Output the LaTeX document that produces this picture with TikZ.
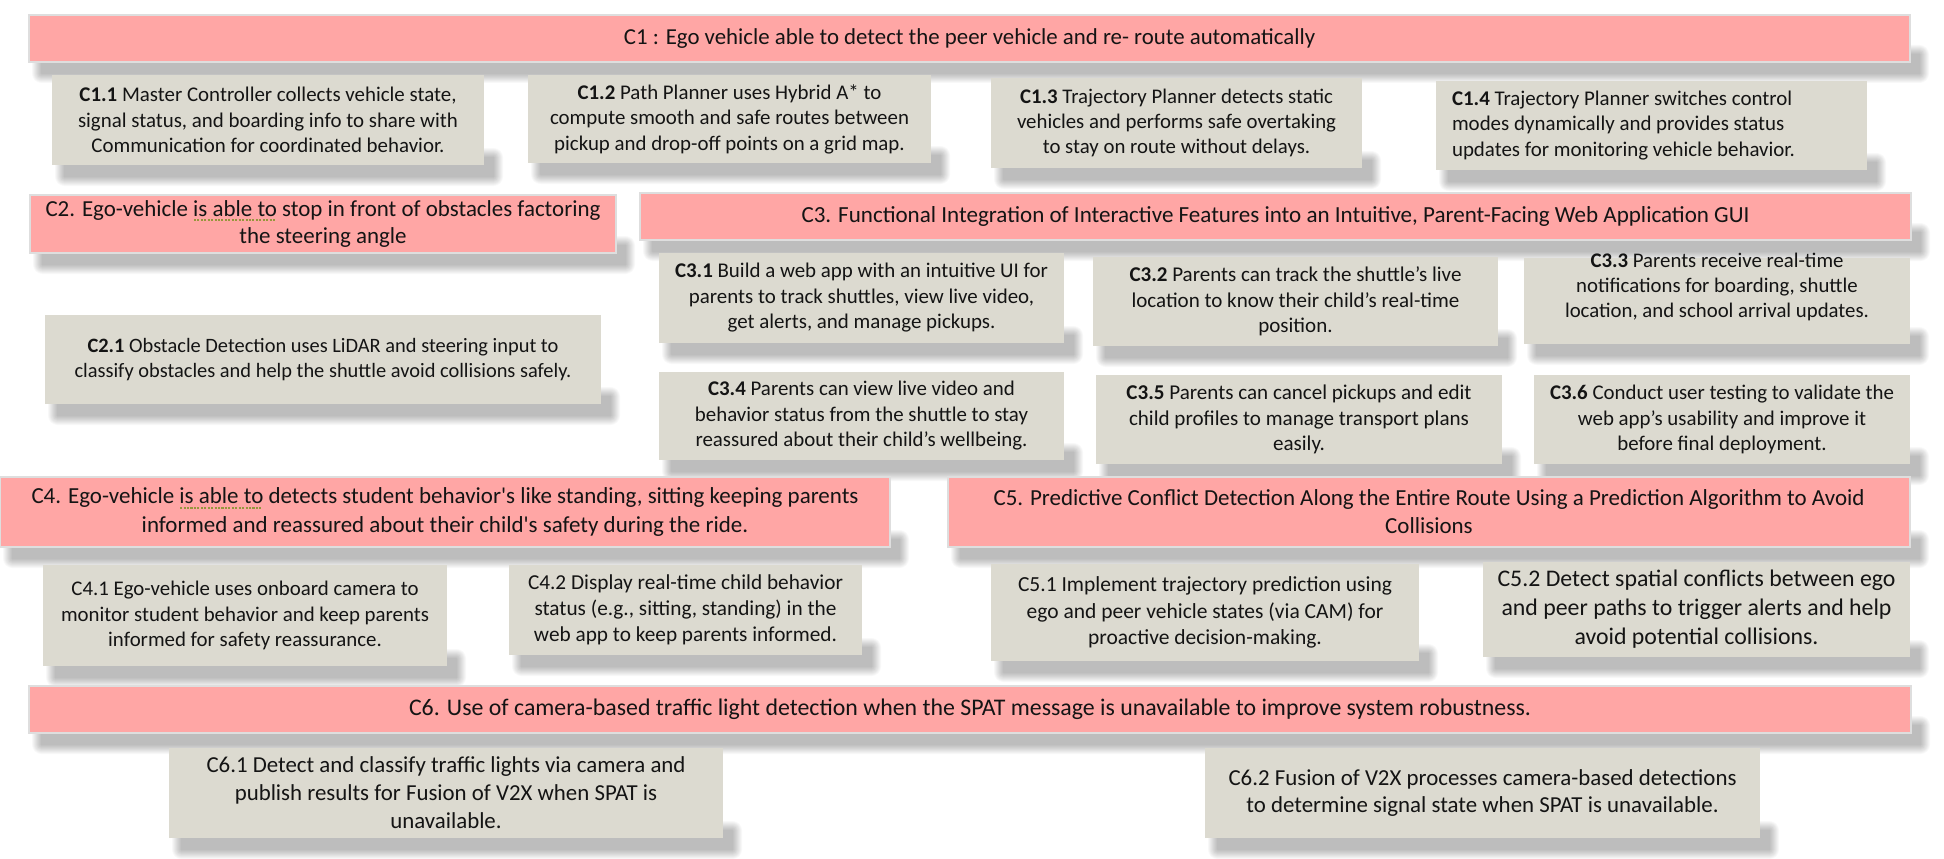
\documentclass[tikz,border=0pt]{standalone}
\usepackage{fontspec}
\setmainfont{Carlito}
\usetikzlibrary{calc}
\definecolor{hdr}{RGB}{255,166,165}
\definecolor{sub}{RGB}{220,218,208}
\definecolor{hdrline}{RGB}{222,222,222}
\definecolor{gramc}{RGB}{150,150,60}
\definecolor{txt}{RGB}{20,20,20}
\pgfdeclarelayer{bg}
\pgfsetlayers{bg,main}
\newcommand\gram[1]{\setbox0\hbox{#1}\leavevmode\rlap{\raisebox{-0.2em}{\textcolor{gramc}{\hbox to \wd0{\leaders\hbox{\kern0.03em\rule{0.09em}{0.06em}\kern0.03em}\hfill}}}}\box0\relax}
\newlength\fitw
\newsavebox\fitbox
% #1 name, #2 target width (px), #3 reference line: defines \fnt<name> so that the line is #2 wide
\newcommand\setfit[3]{\sbox\fitbox{\fontsize{10}{12}\selectfont #3}\fitw=\wd\fitbox\relax
 \pgfmathsetmacro\fsz{10*#2/\fitw}\pgfmathsetmacro\bsk{1.22*\fsz}%
 \expandafter\edef\csname fnt#1\endcsname{\noexpand\fontsize{\fsz}{\bsk}\noexpand\selectfont}}
\tikzset{
 hdrbox/.style={fill=hdr, draw=hdrline, line width=1.2pt},
 subbox/.style={fill=sub, draw=none},
 hdrtext/.style={align=center, text=txt},
 subtext/.style={align=center, text=txt},
 shdlayer/.style={fill=black, opacity=0.028},
}
% #1 name, #2 box style, #3 text style, #4 x0, #5 y0, #6 x1, #7 y1, #8 text, #9 text offset
\newcommand\bx[9]{%
 \node[#2, inner sep=0pt, outer sep=0pt, minimum width={#6pt-#4pt}, minimum height={#7pt-#5pt}] (#1) at ({(#4+#6)/2},{(#5+#7)/2}) {};
 \node[#3, font=\csname fnt#1\endcsname, inner sep=0pt] (#1-t) at ($(#1.center)+#9$) {#8};
 \begin{pgfonlayer}{bg}
 \foreach \k in {0,...,9}{
  \fill[shdlayer, rounded corners={\k*1pt+0.5pt}] ($(#1.south west)+(12-\k,-8-\k)$) rectangle ($(#1.south east)+(10+\k,12+\k)$);
 }
 \end{pgfonlayer}
}
\begin{document}
\setfit{c1}{474}{C1 : Ego vehicle able to detect the peer vehicle and}
\setfit{c11}{380}{signal status, and boarding info to share with}
\setfit{c12}{359}{compute smooth and safe routes between}
\setfit{c13}{319}{vehicles and performs safe overtaking}
\setfit{c14}{343}{updates for monitoring vehicle behavior.}
\setfit{c2}{555}{C2. Ego-vehicle is able to stop in front of obstacles factoring}
\setfit{c3}{948}{C3. Functional Integration of Interactive Features into an Intuitive, Parent-Facing Web Application GUI}
\setfit{c21}{497}{classify obstacles and help the shuttle avoid collisions safely.}
\setfit{c31}{373}{\textbf{C3.1} Build a web app with an intuitive UI for}
\setfit{c32}{332}{\textbf{C3.2} Parents can track the shuttle’s live}
\setfit{c33}{304}{location, and school arrival updates.}
\setfit{c34}{332}{reassured about their child’s wellbeing.}
\setfit{c35}{340}{child profiles to manage transport plans}
\setfit{c36}{344}{\textbf{C3.6} Conduct user testing to validate the}
\setfit{c4}{827}{C4. Ego-vehicle is able to detects student behavior\textquotesingle s like standing, sitting keeping parents}
\setfit{c5}{871}{C5. Predictive Conflict Detection Along the Entire Route Using a Prediction Algorithm to Avoid}
\setfit{c41}{368}{monitor student behavior and keep parents}
\setfit{c42}{315}{C4.2 Display real-time child behavior}
\setfit{c51}{374}{C5.1 Implement trajectory prediction using}
\setfit{c52}{398}{C5.2 Detect spatial conflicts between ego}
\setfit{c6}{1122}{C6. Use of camera-based traffic light detection when the SPAT message is unavailable to improve system robustness.}
\setfit{c61}{479}{C6.1 Detect and classify traffic lights via camera and}
\setfit{c62}{508}{C6.2 Fusion of V2X processes camera-based detections}
\begin{tikzpicture}[x=1pt,y=-1pt]
\begin{pgfonlayer}{bg}
\fill[white] (0,0) rectangle (1944,859);
\end{pgfonlayer}
\useasboundingbox (0,0) rectangle (1944,859);

\bx{c1}{hdrbox}{hdrtext}{29}{15}{1910}{62}{C1 : Ego vehicle able to detect the peer vehicle and re- route automatically}{(0,0)}
\bx{c11}{subbox}{subtext}{52}{75}{484}{165}{\textbf{C1.1} Master Controller collects vehicle state,\\ signal status, and boarding info to share with\\ Communication for coordinated behavior.}{(0,0)}
\bx{c12}{subbox}{subtext}{528}{75}{931}{163}{\textbf{C1.2} Path Planner uses Hybrid A* to\\ compute smooth and safe routes between\\ pickup and drop-off points on a grid map.}{(0,0)}
\bx{c13}{subbox}{subtext}{991}{78}{1362}{168}{\textbf{C1.3} Trajectory Planner detects static\\ vehicles and performs safe overtaking\\ to stay on route without delays.}{(0,0)}
\bx{c14}{subbox}{subtext,align=left}{1436}{81}{1867}{170}{\textbf{C1.4} Trajectory Planner switches control\\ modes dynamically and provides status\\ updates for monitoring vehicle behavior.}{(-28,0)}

\bx{c2}{hdrbox}{hdrtext}{30}{195}{616}{253}{C2. Ego-vehicle \gram{is able to} stop in front of obstacles factoring\\ the steering angle}{(0,0)}
\bx{c3}{hdrbox}{hdrtext}{640}{193}{1911}{240}{C3. Functional Integration of Interactive Features into an Intuitive, Parent-Facing Web Application GUI}{(0,0)}
\bx{c21}{subbox}{subtext}{45}{315}{601}{404}{\textbf{C2.1} Obstacle Detection uses LiDAR and steering input to\\ classify obstacles and help the shuttle avoid collisions safely.}{(0,0)}
\bx{c31}{subbox}{subtext}{659}{253}{1064}{343}{\textbf{C3.1} Build a web app with an intuitive UI for\\ parents to track shuttles, view live video,\\ get alerts, and manage pickups.}{(0,0)}
\bx{c32}{subbox}{subtext}{1093}{257}{1498}{346}{\textbf{C3.2} Parents can track the shuttle’s live\\ location to know their child’s real-time\\ position.}{(0,0)}
\bx{c33}{subbox}{subtext}{1524}{258}{1910}{344}{\textbf{C3.3} Parents receive real-time\\ notifications for boarding, shuttle\\ location, and school arrival updates.}{(0,-14)}
\bx{c34}{subbox}{subtext}{659}{372}{1064}{460}{\textbf{C3.4} Parents can view live video and\\ behavior status from the shuttle to stay\\ reassured about their child’s wellbeing.}{(0,0)}
\bx{c35}{subbox}{subtext}{1096}{375}{1502}{464}{\textbf{C3.5} Parents can cancel pickups and edit\\ child profiles to manage transport plans\\ easily.}{(0,0)}
\bx{c36}{subbox}{subtext}{1534}{375}{1910}{464}{\textbf{C3.6} Conduct user testing to validate the\\ web app’s usability and improve it\\ before final deployment.}{(0,0)}

\bx{c4}{hdrbox}{hdrtext}{0}{477}{890}{547}{C4. Ego-vehicle \gram{is able to} detects student behavior\textquotesingle s like standing, sitting keeping parents\\ informed and reassured about their child\textquotesingle s safety during the ride.}{(0,0)}
\bx{c5}{hdrbox}{hdrtext}{948}{477}{1910}{547}{C5. Predictive Conflict Detection Along the Entire Route Using a Prediction Algorithm to Avoid\\ Collisions}{(0,0)}
\bx{c41}{subbox}{subtext}{43}{565}{447}{666}{C4.1 Ego-vehicle uses onboard camera to\\ monitor student behavior and keep parents\\ informed for safety reassurance.}{(0,0)}
\bx{c42}{subbox}{subtext}{509}{565}{862}{655}{C4.2 Display real-time child behavior\\ status (e.g., sitting, standing) in the\\ web app to keep parents informed.}{(0,0)}
\bx{c51}{subbox}{subtext}{991}{564}{1419}{661}{C5.1 Implement trajectory prediction using\\ ego and peer vehicle states (via CAM) for\\ proactive decision-making.}{(0,0)}
\bx{c52}{subbox}{subtext}{1483}{562}{1910}{657}{C5.2 Detect spatial conflicts between ego\\ and peer paths to trigger alerts and help\\ avoid potential collisions.}{(0,0)}

\bx{c6}{hdrbox}{hdrtext}{29}{686}{1911}{733}{C6. Use of camera-based traffic light detection when the SPAT message is unavailable to improve system robustness.}{(0,0)}
\bx{c61}{subbox}{subtext}{169}{748}{723}{838}{C6.1 Detect and classify traffic lights via camera and\\ publish results for Fusion of V2X when SPAT is\\ unavailable.}{(0,0)}
\bx{c62}{subbox}{subtext}{1205}{748}{1760}{838}{C6.2 Fusion of V2X processes camera-based detections\\ to determine signal state when SPAT is unavailable.}{(0,0)}
\end{tikzpicture}
\end{document}
